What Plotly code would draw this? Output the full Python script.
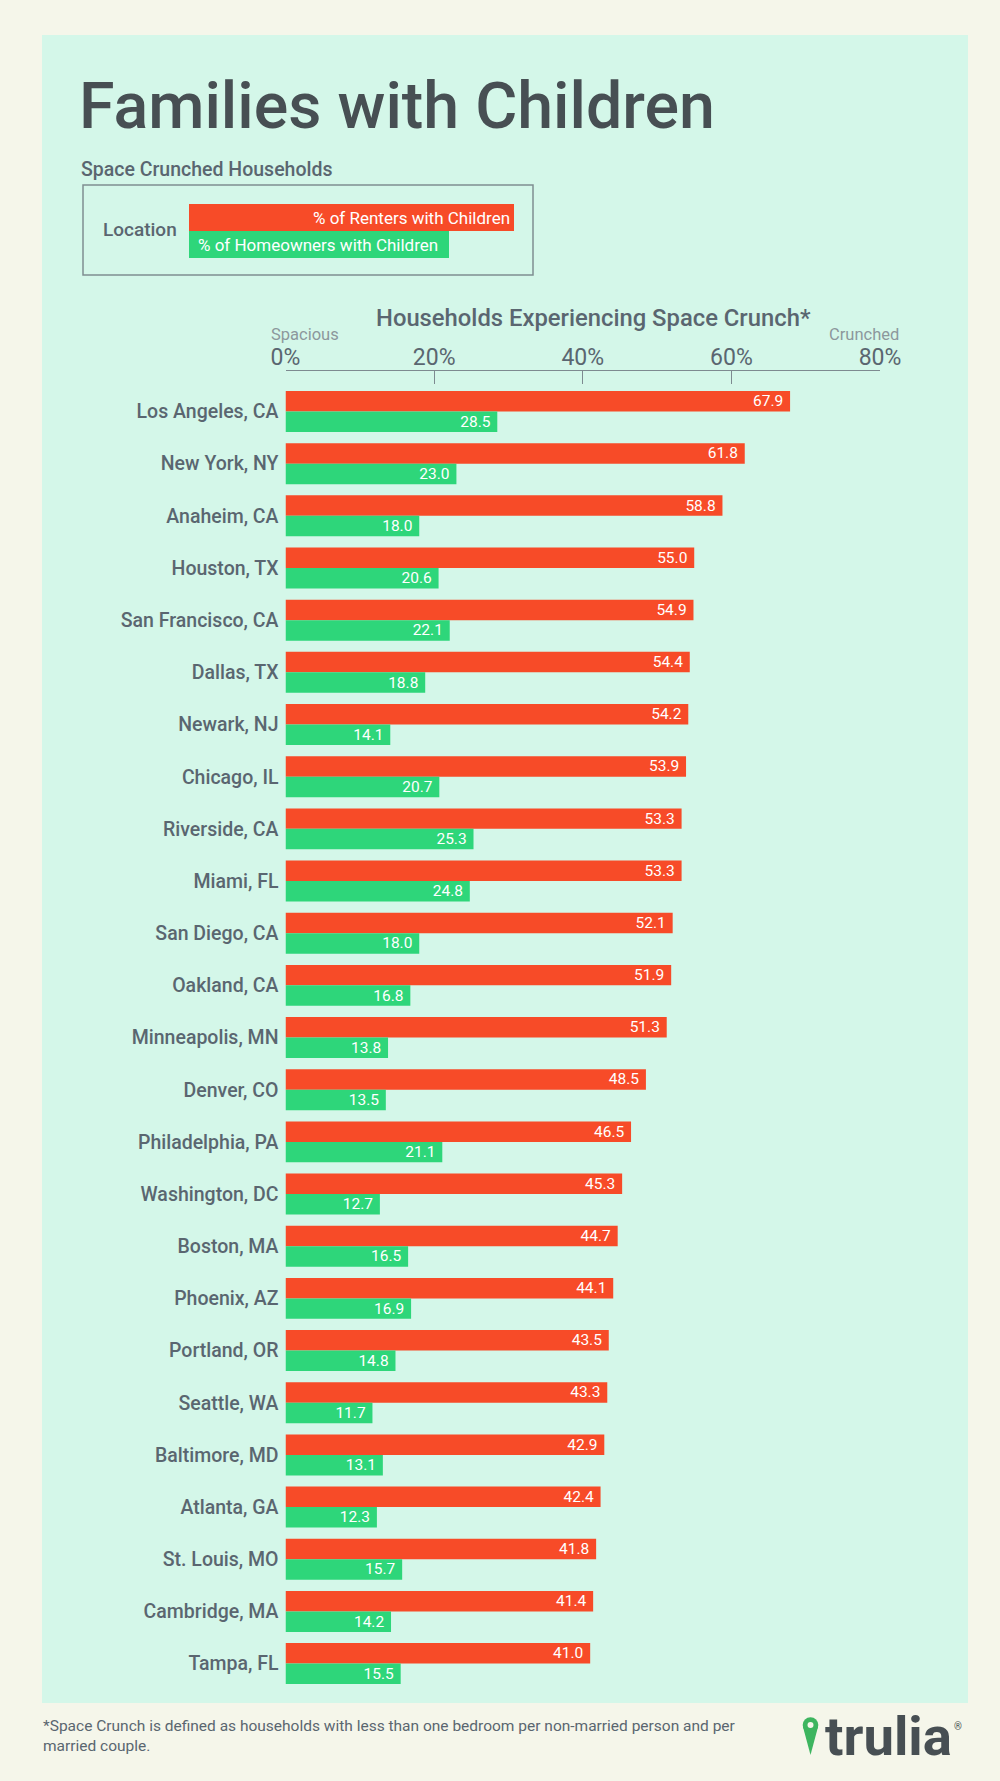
import plotly.graph_objects as go

# ---------------- data ----------------
cities = ["Los Angeles, CA", "New York, NY", "Anaheim, CA", "Houston, TX", "San Francisco, CA",
          "Dallas, TX", "Newark, NJ", "Chicago, IL", "Riverside, CA", "Miami, FL",
          "San Diego, CA", "Oakland, CA", "Minneapolis, MN", "Denver, CO", "Philadelphia, PA",
          "Washington, DC", "Boston, MA", "Phoenix, AZ", "Portland, OR", "Seattle, WA",
          "Baltimore, MD", "Atlanta, GA", "St. Louis, MO", "Cambridge, MA", "Tampa, FL"]
renters = [67.9, 61.8, 58.8, 55.0, 54.9, 54.4, 54.2, 53.9, 53.3, 53.3, 52.1, 51.9, 51.3,
           48.5, 46.5, 45.3, 44.7, 44.1, 43.5, 43.3, 42.9, 42.4, 41.8, 41.4, 41.0]
owners = [28.5, 23.0, 18.0, 20.6, 22.1, 18.8, 14.1, 20.7, 25.3, 24.8, 18.0, 16.8, 13.8,
          13.5, 21.1, 12.7, 16.5, 16.9, 14.8, 11.7, 13.1, 12.3, 15.7, 14.2, 15.5]
tick_vals = [0, 20, 40, 60, 80]
tick_text = ["0%", "20%", "40%", "60%", "80%"]

# ---------------- style ----------------
W, H = 1000, 1781
FONT = "Roboto"
RED = "#F74B28"
GREEN = "#2ED67A"
MINT = "#D4F7E9"
CREAM = "#F5F6EA"
DARK = "#474F53"
GRAY = "#5A6670"
LIGHT = "#8C979C"
PIN = "#3DB55F"


def px(x):
    return x / W


def py(y):
    return 1 - y / H


fig = go.Figure()
fig.add_trace(go.Bar(
    y=cities, x=renters, orientation="h", name="% of Renters with Children",
    marker=dict(color=RED, line=dict(width=0)),
    texttemplate="%{x:.1f}\u00a0", textposition="inside", insidetextanchor="end",
    insidetextfont=dict(color="white", size=15.5, family=FONT), constraintext="none",
    textangle=0, hoverinfo="x+y"))
fig.add_trace(go.Bar(
    y=cities, x=owners, orientation="h", name="% of Homeowners with Children",
    marker=dict(color=GREEN, line=dict(width=0)),
    texttemplate="%{x:.1f}\u00a0", textposition="inside", insidetextanchor="end",
    insidetextfont=dict(color="white", size=15.5, family=FONT), constraintext="none",
    textangle=0, hoverinfo="x+y"))

# axis geometry (pixels)
x_left, x_right = 285.5, 880
pitch = 52.17
y_axis_top = 371
first_center = 411.5
y_bottom = first_center + (len(cities) - 0.5) * pitch
top_val = -0.5 - (first_center - 0.5 * pitch - y_axis_top) / pitch

shapes = []
# mint panel
shapes.append(dict(type="rect", xref="paper", yref="paper", x0=px(42), x1=px(968), y0=py(1703), y1=py(35),
                   fillcolor=MINT, line=dict(width=0), layer="below"))
# legend box
shapes.append(dict(type="rect", xref="paper", yref="paper", x0=px(83), x1=px(533), y0=py(275), y1=py(185),
                   fillcolor="rgba(0,0,0,0)", line=dict(color="#7F8E91", width=1.5)))
shapes.append(dict(type="rect", xref="paper", yref="paper", x0=px(189), x1=px(514), y0=py(231), y1=py(204),
                   fillcolor=RED, line=dict(width=0)))
shapes.append(dict(type="rect", xref="paper", yref="paper", x0=px(189), x1=px(449), y0=py(258), y1=py(231),
                   fillcolor=GREEN, line=dict(width=0)))
# trulia pin
cx, cy, r = 810.5, 1725, 7.8
shapes.append(dict(type="path", xref="paper", yref="paper",
                   path=f"M {px(cx - r + 0.3)} {py(cy + 2)} L {px(cx)} {py(1755)} L {px(cx + r - 0.3)} {py(cy + 2)} Z",
                   fillcolor=PIN, line=dict(width=0)))
shapes.append(dict(type="circle", xref="paper", yref="paper", x0=px(cx - r), x1=px(cx + r),
                   y0=py(cy + r), y1=py(cy - r), fillcolor=PIN, line=dict(width=0)))
shapes.append(dict(type="circle", xref="paper", yref="paper", x0=px(cx - 3), x1=px(cx + 3),
                   y0=py(cy + 3), y1=py(cy - 3), fillcolor=CREAM, line=dict(width=0)))

annotations = []


def txt(text, x, y, size, color, xanchor="left", yanchor="middle", weight="normal", align="left"):
    annotations.append(dict(text=text, x=px(x), y=py(y), xref="paper", yref="paper", showarrow=False,
                            xanchor=xanchor, yanchor=yanchor, align=align,
                            font=dict(family=FONT, size=size, color=color, weight=weight)))


txt("Families with Children", 77, 106, 64.5, DARK, weight=500)
txt("Space Crunched Households", 79, 169, 19.5, GRAY, weight=500)
txt("Location", 101, 230, 19, GRAY, weight=500)
txt("% of Renters with Children", 512, 218, 17, "white", xanchor="right")
txt("% of Homeowners with Children", 196, 245, 17, "white")
txt("Households Experiencing Space Crunch*", 593, 318, 23.8, GRAY, xanchor="center", weight=500)
txt("Spacious", 305, 334, 16.5, LIGHT, xanchor="center")
txt("Crunched", 901, 334, 16.5, LIGHT, xanchor="right")
txt("*Space Crunch is defined as households with less than one bedroom per non-married person and per<br>married couple.",
    41, 1736, 15.5, GRAY)
txt("trulia", 823, 1736, 54.5, DARK, weight="bold")
txt("®", 958, 1726, 10, DARK, xanchor="center")

fig.update_layout(
    width=W, height=H,
    margin=dict(l=0, r=0, t=0, b=0, pad=0, autoexpand=False),
    paper_bgcolor=CREAM, plot_bgcolor="rgba(0,0,0,0)",
    barmode="group", bargap=0.215, bargroupgap=0,
    showlegend=False,
    font=dict(family=FONT, color=GRAY),
    shapes=shapes, annotations=annotations,
    xaxis=dict(domain=[px(x_left), px(x_right)], range=[0, 80], side="top",
               tickvals=tick_vals, ticktext=tick_text, tickfont=dict(size=23, color=GRAY, family=FONT),
               showgrid=False, zeroline=False, showline=True, linecolor="#7D8A90", linewidth=1,
               ticks="inside", ticklen=13, tickcolor="#7D8A90", tickwidth=1, fixedrange=True,
               ticklabelstandoff=-4),
    yaxis=dict(domain=[py(y_bottom), py(y_axis_top)], range=[len(cities) - 0.5, top_val],
               type="category", showgrid=False, zeroline=False, showline=False, ticks="",
               tickfont=dict(size=19.5, color=GRAY, family=FONT, weight=500), ticklabelstandoff=6,
               fixedrange=True),
)

fig.write_html("out.html", config={"displayModeBar": False},
               post_script="document.body.style.margin='0';")
